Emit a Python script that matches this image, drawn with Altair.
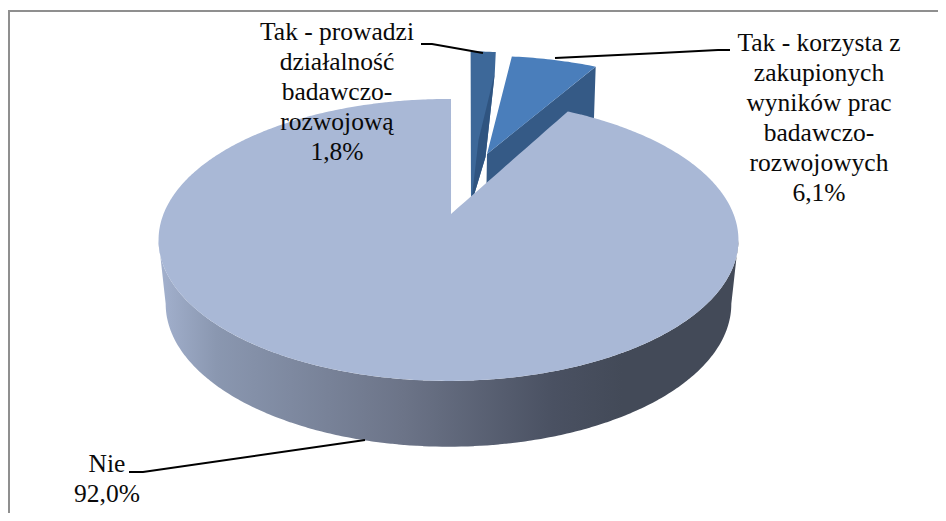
import math
import altair as alt
import pandas as pd

# ---- chart values ----
categories = ["Tak - prowadzi działalność badawczo-rozwojową",
              "Tak - korzysta z zakupionych wyników prac badawczo-rozwojowych",
              "Nie"]
shares = [1.8, 6.1, 92.0]
label_lines = ["Tak - prowadzi\ndziałalność\nbadawczo-\nrozwojową\n1,8%",
               "Tak - korzysta z\nzakupionych\nwyników prac\nbadawczo-\nrozwojowych\n6,1%",
               "Nie\n92,0%"]
label_x = [337, 819, 107]
label_y = [40, 51, 472]

# leader lines, one list per label
leader_x = [[421, 432, 483], [555, 660, 718, 730], [129, 143, 365]]
leader_y = [[44, 44, 53], [58, 53, 50, 50], [472, 472, 440]]

# ---- look ----
COL_MAIN = "#a9b8d6"
COL_S1 = "#3d6899"
COL_S1_DK = "#2f5480"
COL_S2 = "#4a7ebb"
COL_S2_DK = "#355a86"
BORDER = "#8f8f8f"
FONT = "Liberation Serif"
W, H = 930, 505

# ---- perspective of the tilted disc ----
K = 0.184
CX = 448.5
TOP = dict(a=136.2, b=285.0, y0=214.0)
BOT = dict(a=138.0, b=278.0, y0=277.6)
START = 0.6  # degrees


def project(deg, plane=TOP, ox=0.0, oy=0.0, r=1.0):
    t = math.radians(deg)
    X = r * math.sin(t) + ox
    Y = r * math.cos(t) + oy
    d = 1 + K * Y
    return (CX + plane["b"] * X / d, plane["y0"] - plane["a"] * Y / d)


def sweep(a0, a1, n, **kw):
    return [project(a0 + (a1 - a0) * i / n, **kw) for i in range(n + 1)]


def envelope(poly):
    """Turn a polygon into x / upper / lower rows for an area mark."""
    eps = 1e-4
    xs = sorted({round(p[0], 4) for p in poly})
    lo, hi = min(xs), max(xs)
    samples = sorted({min(max(x + s, lo + eps), hi - eps) for x in xs for s in (-eps, eps)})
    rows = []
    n = len(poly)
    for x in samples:
        ys = []
        for i in range(n):
            (x0, y0), (x1, y1) = poly[i], poly[(i + 1) % n]
            if (x0 <= x < x1) or (x1 <= x < x0):
                ys.append(y0 + (x - x0) * (y1 - y0) / (x1 - x0))
        if ys:
            rows.append({"x": x, "y": min(ys), "y2": max(ys)})
    return pd.DataFrame(rows)


x_scale = alt.Scale(domain=[8, 8 + W], nice=False, zero=False)
y_scale = alt.Scale(domain=[8, 8 + H], reverse=True, nice=False, zero=False)


def area(poly, color):
    return alt.Chart(envelope(poly)).mark_area(color=color, interpolate="linear").encode(
        x=alt.X("x:Q", scale=x_scale, axis=None),
        y=alt.Y("y:Q", scale=y_scale, axis=None),
        y2="y2:Q",
    )


# slice angles from the shares
ang = [s / sum(shares) * 360 for s in shares]
a1_start, a1_end = START, START + ang[0]
a2_start, a2_end = a1_end, a1_end + ang[1]

# ---- main slice ("Nie") ----
main_ring = sweep(a2_end, 360 + START, 300)
main_poly = main_ring + [(451.0, 214.0)]

# wall of the disc under its front edge
top_ring = sweep(100.6, 259.4, 150)
bot_ring = sweep(100.6, 259.4, 150, plane=BOT)
rim_poly = top_ring + bot_ring[::-1]
rim_grad = alt.Gradient(
    gradient="linear", x1=0, x2=1, y1=0, y2=0,
    stops=[
        alt.GradientStop(color="#a3b1ce", offset=0.0),
        alt.GradientStop(color="#8a97b0", offset=0.10),
        alt.GradientStop(color="#6c7488", offset=0.42),
        alt.GradientStop(color="#4a5162", offset=0.68),
        alt.GradientStop(color="#434a58", offset=0.80),
        alt.GradientStop(color="#434a58", offset=1.0),
    ],
)

# ---- slice 2 (pulled out) ----
off2 = dict(ox=0.159, oy=0.477)
s2_top = sweep(a2_start, a2_end, 24, **off2)
s2_apex = (487.0, 154.0)
s2_poly = [s2_apex] + s2_top
s2_corner = s2_top[-1]
s2_wall = [s2_apex, s2_corner, (s2_corner[0] - 2, s2_corner[1] + 60), (s2_apex[0] - 1, s2_apex[1] + 60)]

# ---- slice 1 (pulled out) ----
off1 = dict(ox=0.089, oy=0.53)
s1_top = sweep(a1_start, a1_end, 8, **off1)
s1_r = s1_top[-1]
s1_fold = (s1_r[0] - 1, s1_r[1] + 21)
s1_knee = (485.5, 157.0)
s1_tip = (471.0, 205.0)
s1_bend = (478.5, 140.0)
s1_poly = s1_top + [s1_fold, s1_knee, s1_tip]
s1_dark = [s1_fold, s1_knee, s1_tip, s1_bend]

layers = [
    area(s1_poly, COL_S1),
    area(s1_dark, COL_S1_DK),
    area(s2_wall, COL_S2_DK),
    area(s2_poly, COL_S2),
    area(rim_poly, rim_grad),
    area(main_poly, COL_MAIN),
]

# frame
frame_h = alt.Chart(pd.DataFrame({"x": [8], "x2": [8 + W], "y": [11]})).mark_rule(
    color=BORDER, strokeWidth=2).encode(
    x=alt.X("x:Q", scale=x_scale, axis=None), x2="x2:Q",
    y=alt.Y("y:Q", scale=y_scale, axis=None))
frame_v = alt.Chart(pd.DataFrame({"x": [9], "y": [10], "y2": [8 + H]})).mark_rule(
    color=BORDER, strokeWidth=2).encode(
    x=alt.X("x:Q", scale=x_scale, axis=None),
    y=alt.Y("y:Q", scale=y_scale, axis=None), y2="y2:Q")
layers += [frame_h, frame_v]

# leader lines
rows = []
for i, (lx, ly) in enumerate(zip(leader_x, leader_y)):
    for j, (px, py) in enumerate(zip(lx, ly)):
        rows.append({"k": i, "o": j, "x": px, "y": py})
layers.append(
    alt.Chart(pd.DataFrame(rows)).mark_line(color="#000000", strokeWidth=2).encode(
        x=alt.X("x:Q", scale=x_scale, axis=None),
        y=alt.Y("y:Q", scale=y_scale, axis=None),
        detail="k:N", order="o:Q")
)

# labels
layers.append(
    alt.Chart(pd.DataFrame({"t": label_lines, "x": label_x, "y": label_y, "c": categories})).mark_text(
        font=FONT, fontSize=25.5, color="#0a0a0a", align="center", baseline="alphabetic",
        lineBreak="\n", lineHeight=30).encode(
        x=alt.X("x:Q", scale=x_scale, axis=None),
        y=alt.Y("y:Q", scale=y_scale, axis=None),
        text="t:N")
)

chart = alt.layer(*layers).properties(
    width=W, height=H, padding=0, autosize=alt.AutoSizeParams(type="none"),
    background="#ffffff",
).configure_view(stroke=None)

chart.save("out.html", embed_options={"renderer": "svg", "actions": False})
